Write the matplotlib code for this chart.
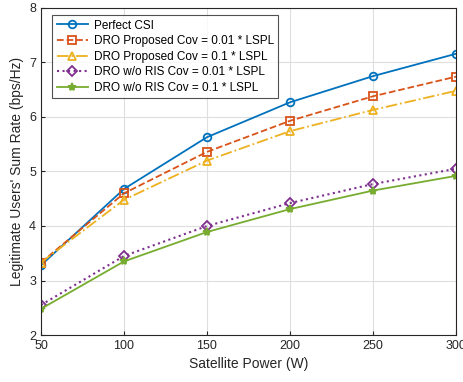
import numpy as np
import matplotlib
matplotlib.use('Agg')
import matplotlib.pyplot as plt

plt.rcParams['font.family'] = ['Liberation Sans', 'DejaVu Sans']

# Data
power = [50, 100, 150, 200, 250, 300]
perfect_csi = [3.28, 4.68, 5.63, 6.27, 6.75, 7.16]
dro_prop_001 = [3.33, 4.60, 5.36, 5.93, 6.38, 6.74]
dro_prop_01 = [3.33, 4.48, 5.20, 5.74, 6.13, 6.48]
dro_noris_001 = [2.55, 3.45, 4.00, 4.42, 4.77, 5.05]
dro_noris_01 = [2.48, 3.35, 3.89, 4.31, 4.65, 4.92]

fig = plt.figure(figsize=(4.64, 3.82), dpi=100)
ax = fig.add_axes([41/464, 1 - 335/382, (456-41)/464, (335-8)/382])

ax.plot(power, perfect_csi, '-o', color='#0072BD', lw=1.3, ms=5.5, mfc='none', mew=1.3, label='Perfect CSI')
ax.plot(power, dro_prop_001, '--s', color='#D95319', lw=1.3, ms=5.5, mfc='none', mew=1.3, label='DRO Proposed Cov = 0.01 * LSPL')
ax.plot(power, dro_prop_01, '-.^', color='#EDB120', lw=1.3, ms=6, mfc='none', mew=1.3, label='DRO Proposed Cov = 0.1 * LSPL')
ax.plot(power, dro_noris_001, ':D', color='#7E2F8E', lw=1.5, ms=5, mfc='none', mew=1.3, label='DRO w/o RIS Cov = 0.01 * LSPL')
ax.plot(power, dro_noris_01, '-*', color='#77AC30', lw=1.3, ms=6, mew=1.3, label='DRO w/o RIS Cov = 0.1 * LSPL')

ax.set_xlim(50, 300)
ax.set_ylim(2, 8)
ax.set_xticks(power)
ax.set_yticks(range(2, 9))
ax.tick_params(labelsize=9, direction='in', length=3, colors='#262626')
ax.grid(True, color='#dedede', lw=0.8)
ax.set_axisbelow(True)
for s in ax.spines.values():
    s.set_color('#262626')
    s.set_linewidth(0.8)

ax.set_xlabel('Satellite Power (W)', fontsize=10, color='#262626')
ax.set_ylabel("Legitimate Users' Sum Rate (bps/Hz)", fontsize=10, color='#262626')

leg = ax.legend(loc='upper left', fontsize=8.5, fancybox=False, edgecolor='#262626',
                handlelength=2.6, handletextpad=0.5, borderpad=0.4, labelspacing=0.3,
                borderaxespad=0, bbox_to_anchor=(0.027, 0.979))
leg.get_frame().set_linewidth(0.8)

fig.savefig('out.png', dpi=100)
